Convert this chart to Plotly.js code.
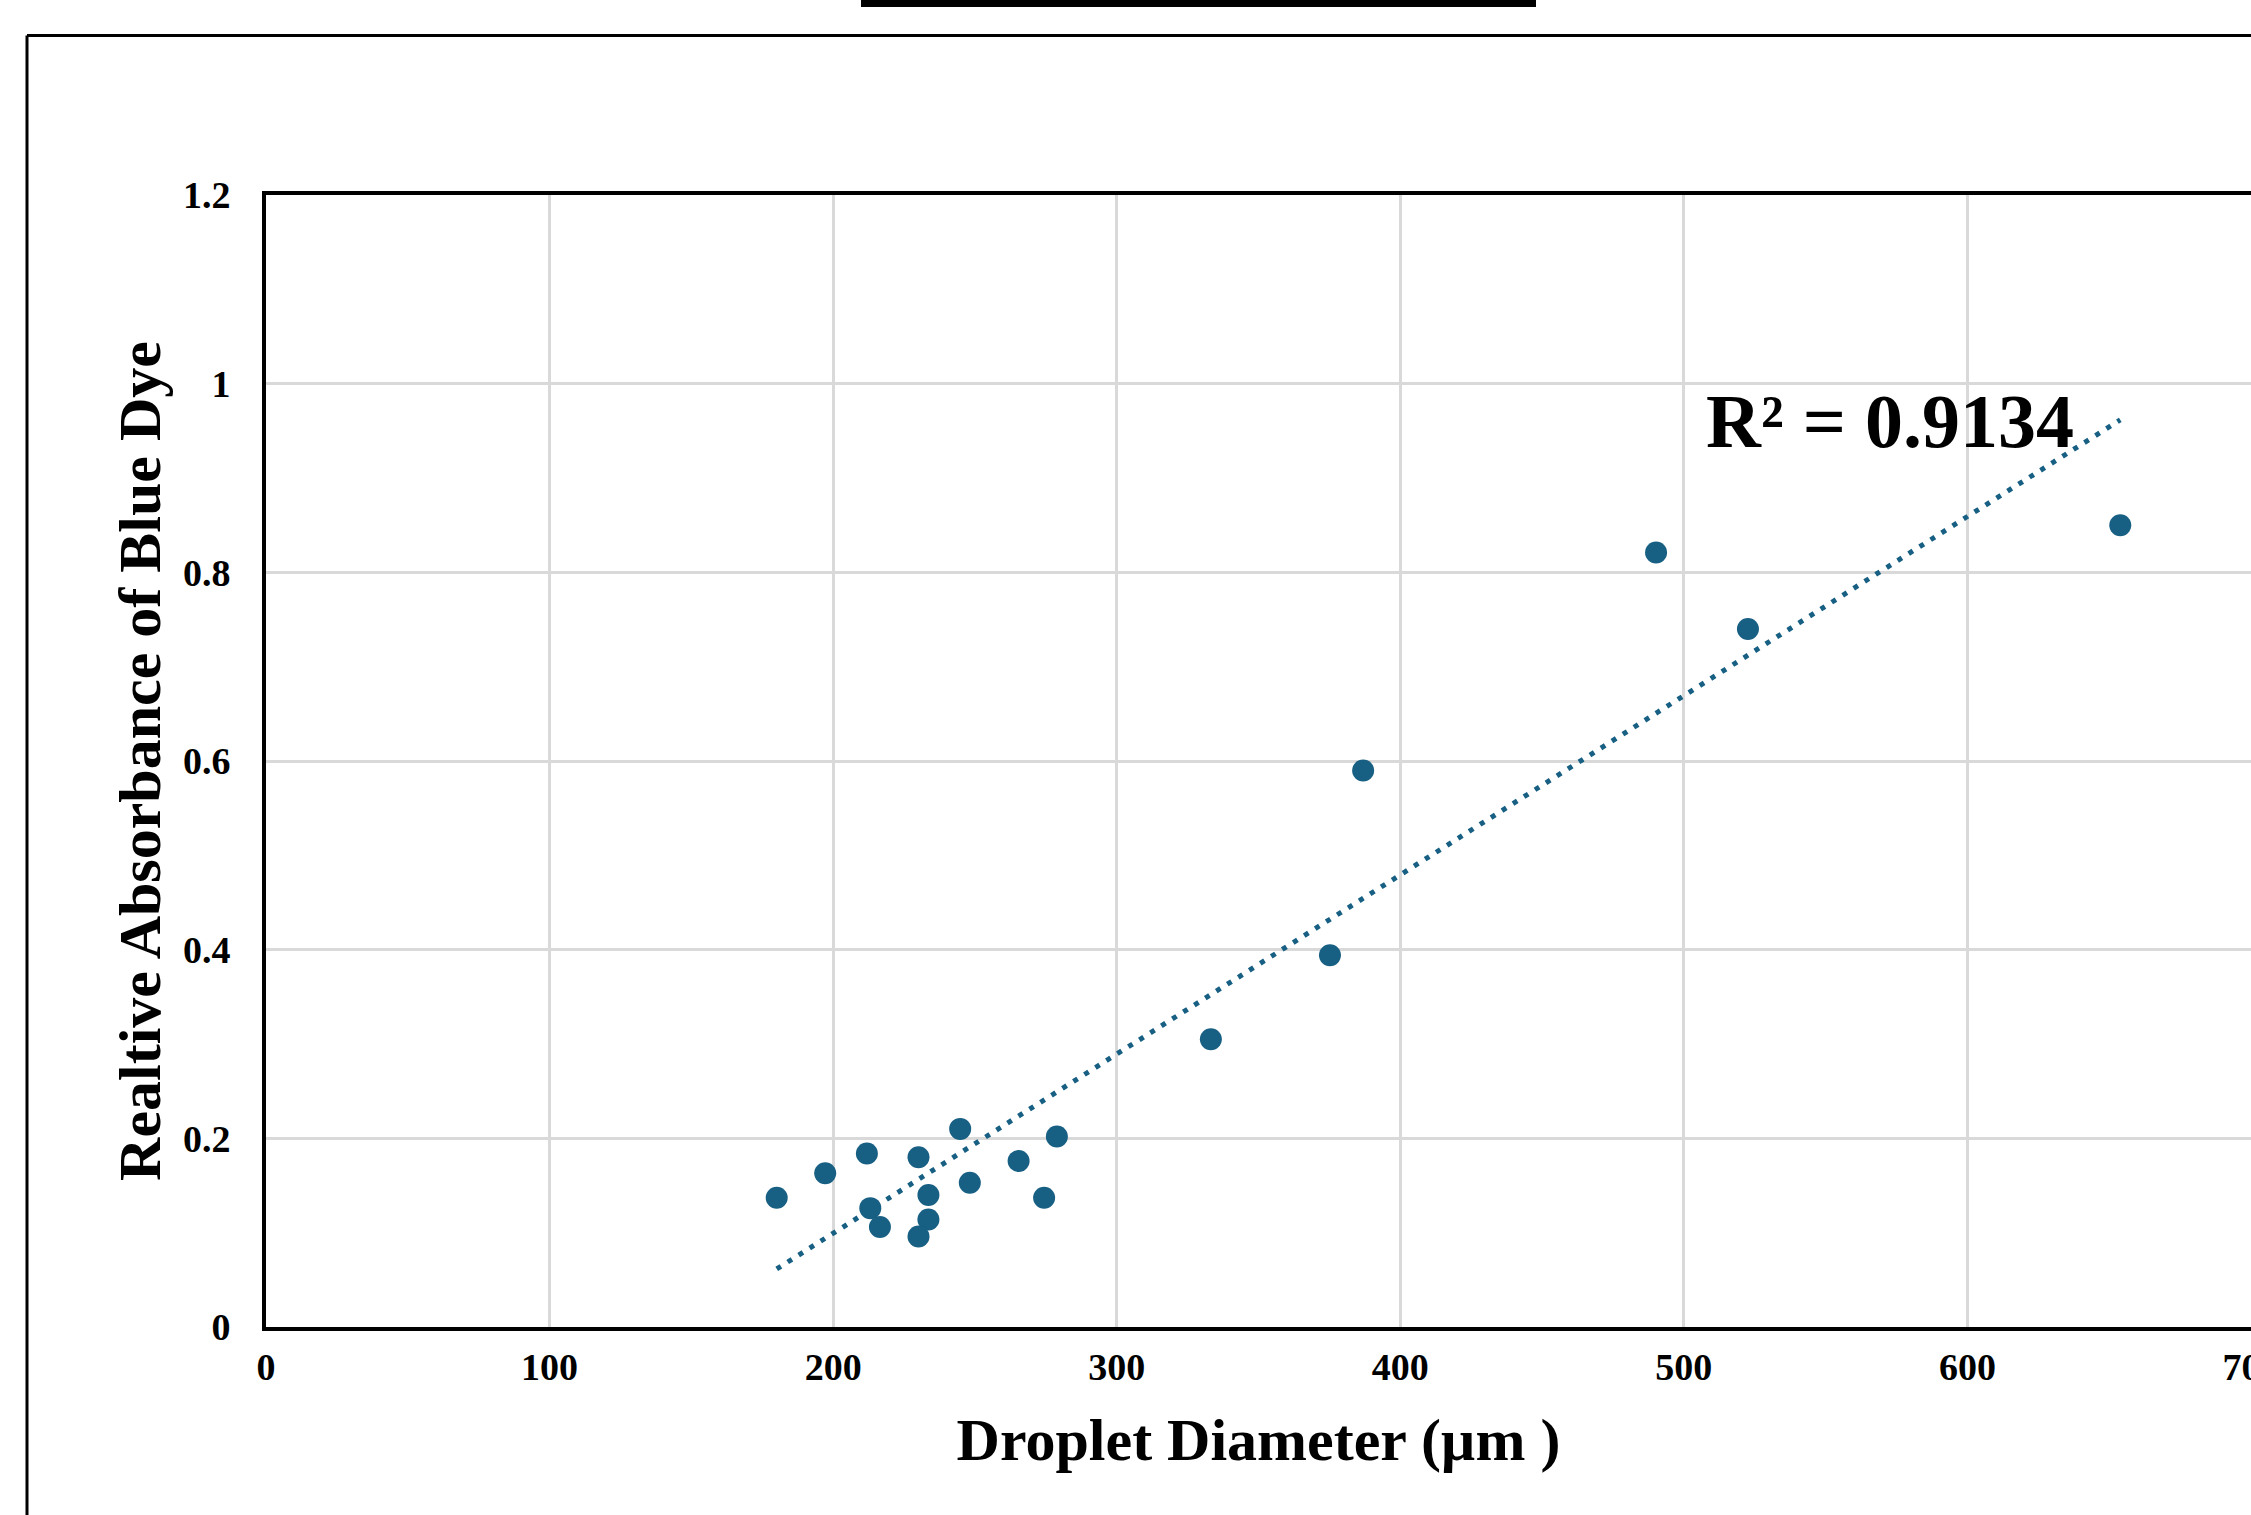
<!DOCTYPE html>
<html>
<head>
<meta charset="utf-8">
<script src="https://cdn.plot.ly/plotly-3.0.1.min.js"></script>
<style>
html,body{margin:0;padding:0;background:#ffffff;overflow:hidden;}
#chart{width:2251px;height:1515px;}
</style>
</head>
<body>
<div id="chart"></div>
<script>
// ---- Data ----
const dropletDiameter = [180.1, 197.2, 211.9, 213.1, 216.5, 230.1, 233.6, 233.6, 230.1, 244.8,
                         248.2, 265.4, 278.9, 274.4, 333.2, 375.2, 386.9, 490.2, 522.6, 653.9];
const relativeAbsorbance = [0.137, 0.163, 0.184, 0.126, 0.106, 0.180, 0.140, 0.114, 0.096, 0.210,
                            0.153, 0.176, 0.202, 0.137, 0.305, 0.394, 0.590, 0.821, 0.740, 0.850];
const xTickVals = [0, 100, 200, 300, 400, 500, 600, 700];
const xTickText = ['0', '100', '200', '300', '400', '500', '600', '700'];
const yTickVals = [0, 0.2, 0.4, 0.6, 0.8, 1.0, 1.2];
const yTickText = ['0', '0.2', '0.4', '0.6', '0.8', '1', '1.2'];
const xTitle = 'Droplet Diameter (µm )';
const yTitle = 'Realtive Absorbance of Blue Dye';
const r2Label = 'R² = 0.9134';

// ---- Linear least-squares trendline (as Excel's linear trendline) ----
const n = dropletDiameter.length;
const mx = dropletDiameter.reduce((a, b) => a + b, 0) / n;
const my = relativeAbsorbance.reduce((a, b) => a + b, 0) / n;
let sxy = 0, sxx = 0;
for (let i = 0; i < n; i++) {
  sxy += (dropletDiameter[i] - mx) * (relativeAbsorbance[i] - my);
  sxx += (dropletDiameter[i] - mx) * (dropletDiameter[i] - mx);
}
const slope = sxy / sxx;
const intercept = my - slope * mx;
const trendX = [Math.min(...dropletDiameter), Math.max(...dropletDiameter)];
const trendY = trendX.map(x => intercept + slope * x);

// ---- Layout geometry ----
const W = 2251, H = 1515;
const ML = 266, MR = 0, MT = 195, MB = 188;
const px2x = px => (px - ML) / (W - ML - MR);
const py2y = py => (H - MB - py) / (H - MT - MB);

const FONT = '"Liberation Serif", "Times New Roman", Times, serif';
const dotColor = '#175f83';

const traces = [
  {
    x: trendX, y: trendY, type: 'scatter', mode: 'lines',
    line: {color: dotColor, width: 5, dash: '5px,8px'},
    hoverinfo: 'skip', showlegend: false
  },
  {
    x: dropletDiameter, y: relativeAbsorbance, type: 'scatter', mode: 'markers',
    marker: {color: dotColor, size: 22, line: {width: 0}},
    showlegend: false
  }
];

const layout = {
  width: W, height: H,
  margin: {l: ML, r: MR, t: MT, b: MB, pad: 0},
  paper_bgcolor: '#ffffff', plot_bgcolor: '#ffffff',
  showlegend: false,
  font: {family: FONT, color: '#000000'},
  xaxis: {
    range: [0, 700], tickmode: 'array', tickvals: xTickVals, ticktext: xTickText,
    showgrid: true, gridcolor: '#d9d9d9', gridwidth: 3,
    showline: true, linecolor: '#000000', linewidth: 4, mirror: true,
    zeroline: false, ticks: '', ticklabelstandoff: 3, ticklabeloverflow: 'allow',
    tickfont: {family: FONT, size: 38, color: '#000000', weight: 'bold'},
    title: {text: xTitle, standoff: 32, font: {family: FONT, size: 60, color: '#000000', weight: 'bold'}},
    automargin: false, fixedrange: true
  },
  yaxis: {
    range: [0, 1.2], tickmode: 'array', tickvals: yTickVals, ticktext: yTickText,
    showgrid: true, gridcolor: '#d9d9d9', gridwidth: 3,
    showline: true, linecolor: '#000000', linewidth: 4, mirror: false,
    zeroline: false, ticks: '', ticklabelstandoff: 24, ticklabeloverflow: 'allow',
    tickfont: {family: FONT, size: 38, color: '#000000', weight: 'bold'},
    title: {text: yTitle, standoff: 4, font: {family: FONT, size: 60, color: '#000000', weight: 'bold'}},
    automargin: false, fixedrange: true
  },
  annotations: [
    {
      x: 507, y: 0.960, xref: 'x', yref: 'y', xanchor: 'left', yanchor: 'middle',
      text: r2Label, showarrow: false,
      font: {family: FONT, size: 76, color: '#000000', weight: 'bold'}
    }
  ],
  shapes: [
    // remnant of the box above the chart
    {type: 'rect', xref: 'paper', yref: 'paper',
     x0: px2x(861), x1: px2x(1536), y0: py2y(7), y1: py2y(-5),
     fillcolor: '#000000', line: {width: 0}},
    // outer chart frame (top and left edges)
    {type: 'line', xref: 'paper', yref: 'paper',
     x0: px2x(27), x1: px2x(2265), y0: py2y(35.5), y1: py2y(35.5),
     line: {color: '#000000', width: 3}},
    {type: 'line', xref: 'paper', yref: 'paper',
     x0: px2x(27), x1: px2x(27), y0: py2y(35.5), y1: py2y(1530),
     line: {color: '#000000', width: 3}}
  ]
};

Plotly.newPlot('chart', traces, layout, {displayModeBar: false, staticPlot: true});
</script>
</body>
</html>
